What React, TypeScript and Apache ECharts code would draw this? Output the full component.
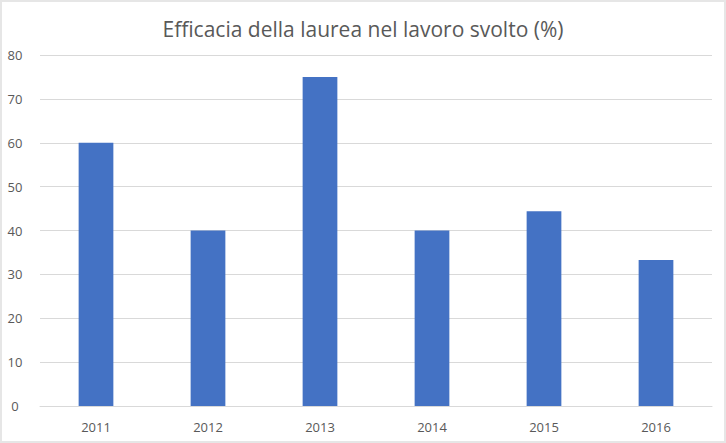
import React, { useEffect, useRef } from "react";
import * as echarts from "echarts";

const categories = ["2011", "2012", "2013", "2014", "2015", "2016"];
const values = [60, 40, 75, 40, 44.4, 33.3];
const yTicks = { min: 0, max: 80, interval: 10 };
const title = "Efficacia della laurea nel lavoro svolto (%)";

export default function App() {
  const ref = useRef<HTMLDivElement>(null);
  useEffect(() => {
    document.body.style.margin = "0";
    const chart = echarts.init(ref.current!, null, { renderer: "svg" });
    chart.setOption({
      animation: false,
      backgroundColor: "#ffffff",
      title: {
        text: title,
        left: "center",
        top: 11,
        textStyle: {
          fontFamily: "Open Sans",
          fontSize: 21,
          fontWeight: "normal",
          color: "#595959",
        },
      },
      grid: { left: 38, right: 12, top: 53, bottom: 35 },
      xAxis: {
        type: "category",
        data: categories,
        axisLine: { lineStyle: { color: "#d9d9d9", width: 1 } },
        axisTick: { show: false },
        axisLabel: {
          color: "#595959",
          fontSize: 13,
          fontFamily: "Open Sans",
          margin: 14,
        },
      },
      yAxis: {
        type: "value",
        min: yTicks.min,
        max: yTicks.max,
        interval: yTicks.interval,
        axisLine: { show: false },
        axisTick: { show: false },
        splitLine: { lineStyle: { color: "#d9d9d9", width: 1 } },
        axisLabel: {
          color: "#595959",
          fontSize: 13,
          fontFamily: "Open Sans",
          align: "center",
          margin: 25,
        },
      },
      series: [
        {
          type: "bar",
          data: values,
          barWidth: "31%",
          itemStyle: { color: "#4472c4" },
        },
      ],
    });
    return () => chart.dispose();
  }, []);
  return (
    <div
      style={{
        width: 726,
        height: 443,
        boxSizing: "border-box",
        border: "2px solid #e6e6e6",
        background: "#fff",
      }}
    >
      <div ref={ref} style={{ width: 722, height: 439 }} />
    </div>
  );
}
